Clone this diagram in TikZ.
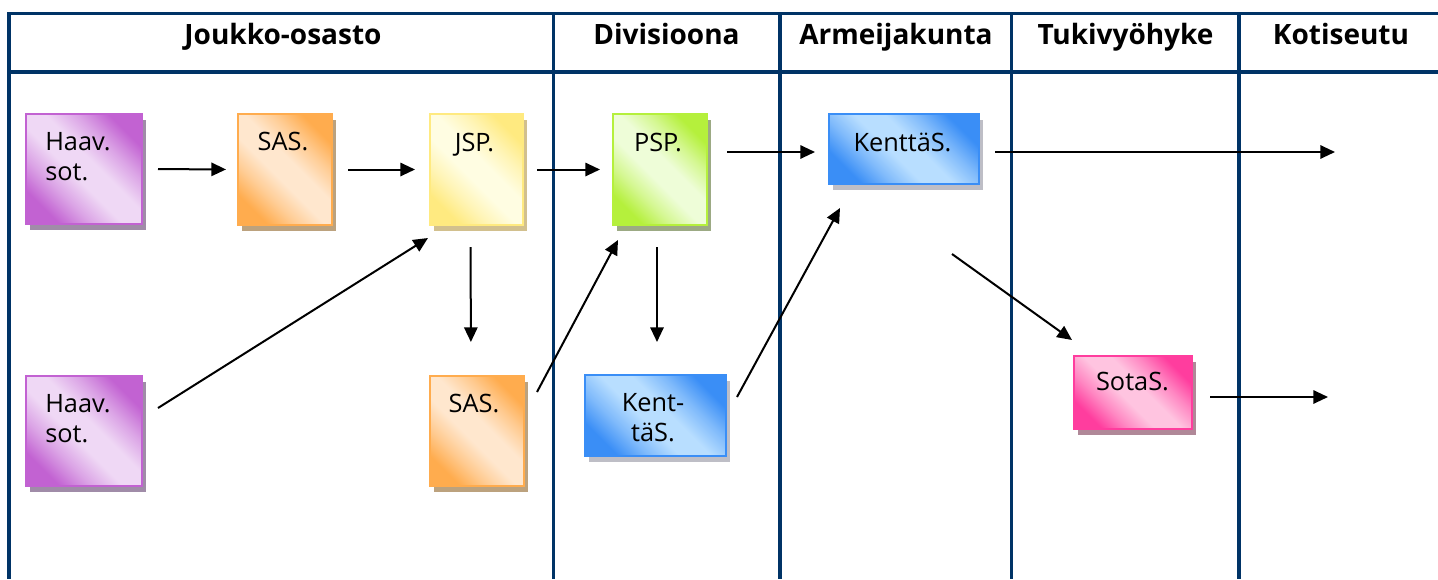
\documentclass[tikz,border=0pt]{standalone}
\usepackage{fontspec}
\setmainfont{Open Sans}
\usetikzlibrary{shadows,arrows.meta}
\definecolor{navy}{HTML}{003366}
\definecolor{purpD}{HTML}{C262D2}
\definecolor{purpL}{HTML}{EFD8F5}
\definecolor{purpS}{HTML}{A08CA8}
\definecolor{orngD}{HTML}{FFAC4E}
\definecolor{orngL}{HTML}{FFE7CE}
\definecolor{orngS}{HTML}{BCA27E}
\definecolor{yellD}{HTML}{FFEA80}
\definecolor{yellL}{HTML}{FFFDE2}
\definecolor{yellS}{HTML}{D2C08E}
\definecolor{grenD}{HTML}{B5F03C}
\definecolor{grenL}{HTML}{EEFDD8}
\definecolor{grenS}{HTML}{9CAA84}
\definecolor{bluD}{HTML}{3A8EF6}
\definecolor{bluL}{HTML}{B8DEFF}
\definecolor{bluS}{HTML}{BEBEC6}
\definecolor{pinkD}{HTML}{FF3D9E}
\definecolor{pinkL}{HTML}{FFC4E0}
\definecolor{pinkS}{HTML}{B08898}
\colorlet{cD}{black}
\colorlet{cM}{gray}
\colorlet{cL}{white}
\pgfdeclareverticalshading[cD,cM,cL]{diagshade}{100bp}{color(0bp)=(cD); color(25bp)=(cD); color(35bp)=(cM); color(45bp)=(cL); color(55bp)=(cL); color(65bp)=(cM); color(75bp)=(cD); color(100bp)=(cD)}
\tikzset{
  grid/.style={draw=navy, line width=2.5pt},
  arr/.style={draw=black, line width=1.5pt, -{Triangle[length=11pt,width=10pt]}},
  cbox/.style={/utils/exec={\colorlet{cD}{#1D}\colorlet{cL}{#1L}\colorlet{cM}{#1D!45!#1L}},
    draw=#1D, line width=1.5pt, shading=diagshade, shading angle=-45, inner sep=0pt,
    drop shadow={fill=#1S, opacity=1, shadow xshift=3pt, shadow yshift=-4.5pt}},
  sz/.style 2 args={minimum width={(#1-2)*0.75pt}, minimum height={(#2-2)*0.75pt}},
  btxt/.style={font=\fontsize{19}{22.5}\selectfont, inner sep=0pt, anchor=north},
  head/.style={font=\bfseries\fontsize{21}{25}\selectfont, anchor=base, inner sep=0pt},
}
\begin{document}
\begin{tikzpicture}[x=0.75pt,y=-0.75pt]
\useasboundingbox (0,0) rectangle (1438,579);
% grid
\draw[grid] (1438,13.5) -- (9,13.5) -- (9,579);
\draw[grid] (9,72) -- (1438,72);
\draw[grid] (553.3,13.5) -- (553.3,579);
\draw[grid] (780,13.5) -- (780,579);
\draw[grid] (1011.7,13.5) -- (1011.7,579);
\draw[grid] (1239,13.5) -- (1239,579);
% headers
\node[head] (h1) at (283,44.5) {Joukko-osasto};
\node[head] (h2) at (666.5,44.5) {Divisioona};
\node[head] (h3) at (896,44.5) {Armeijakunta};
\node[head] (h4) at (1125.5,44.5) {Tukivyöhyke};
\node[head] (h5) at (1341,44.5) {Kotiseutu};
% boxes
\node[cbox=purp, sz={118}{112}] (haav1) at (84,169) {};
\node[cbox=orng, sz={96}{113}] (sas1) at (285,169.5) {};
\node[cbox=yell, sz={95}{113}] (jsp) at (476.5,169.5) {};
\node[cbox=gren, sz={96}{113}] (psp) at (660,169.5) {};
\node[cbox=blu, sz={152}{72}] (kenttas) at (904,149) {};
\node[cbox=purp, sz={118}{112}] (haav2) at (84,431) {};
\node[cbox=orng, sz={96}{112}] (sas2) at (477,431) {};
\node[cbox=blu, sz={143}{83}] (kent2) at (655.5,415.5) {};
\node[cbox=pink, sz={120}{75}] (sotas) at (1133,392.5) {};
% texts
\node[btxt, anchor=north west, align=left] (haav1t) at (45,132.5) {Haav.\\sot.};
\node[btxt] (sas1t) at (283,132) {SAS.};
\node[btxt] (jspt) at (474.5,132.5) {JSP.};
\node[btxt] (pspt) at (658,132.5) {PSP.};
\node[btxt] (kenttast) at (902.5,133) {KenttäS.};
\node[btxt, anchor=north west, align=left] (haav2t) at (45,394.5) {Haav.\\sot.};
\node[btxt] (sas2t) at (474,394) {SAS.};
\node[btxt, align=center] (kent2t) at (653,393) {Kent-\\täS.};
\node[btxt] (sotast) at (1132.5,372) {SotaS.};
% free ends
\coordinate (out1) at (1335,152);
\coordinate (out2) at (1328,397);
% arrows
\draw[arr, shorten <=11.25pt, shorten >=8.25pt] (haav1.east) -- (sas1.west);
\draw[arr, shorten <=11.25pt, shorten >=10.5pt] (sas1.east) -- (jsp.west);
\draw[arr, shorten <=9.75pt, shorten >=9pt] (jsp.east) -- (psp.west);
\draw[arr, shorten <=14.25pt, shorten >=9.75pt] ([yshift=-2.25pt]kenttas.west -| psp.east) -- ([yshift=-2.25pt]kenttas.west);
\draw[arr, shorten <=11.25pt] ([yshift=-2.25pt]kenttas.east) -- (out1);
\draw[arr, shorten <=15.75pt, shorten >=24.75pt] ([xshift=-4.5pt]jsp.south) -- ([xshift=-4.5pt]sas2.north);
\draw[arr, shorten <=15.75pt, shorten >=24pt] ([xshift=-2.25pt]psp.south) -- ([xshift=1.125pt]kent2.north);
\draw[arr] ([shift={(15,-23)}]haav2.east) -- ([shift={(-1,12)}]jsp.south west);
\draw[arr] ([shift={(12,-39)}]sas2.east) -- ([shift={(6,14)}]psp.south west);
\draw[arr] ([shift={(10,-18.5)}]kent2.east) -- ([shift={(12,23)}]kenttas.south west);
\draw[arr] ([shift={(48,69)}]kenttas.south) -- ([shift={(-1,-15)}]sotas.north west);
\draw[arr] ([shift={(17,4.5)}]sotas.east) -- (out2);
\end{tikzpicture}
\end{document}
